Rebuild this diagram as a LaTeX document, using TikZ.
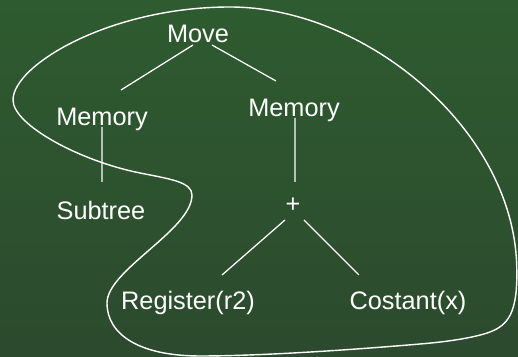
\documentclass[tikz,border=0pt]{standalone}
\usepackage{fontspec}
\setmainfont{Liberation Sans}
\usepackage{tikz}
\usetikzlibrary{calc}
\usepackage{xcolor}
\definecolor{BoardTop}{HTML}{2E5B2F}
\definecolor{BoardBottom}{HTML}{2C4A2E}
\definecolor{ChalkColor}{HTML}{FFFFFF}

\begin{document}
\begin{tikzpicture}[every node/.style={font=\fontsize{18}{21}\selectfont, text=ChalkColor,
                    inner sep=0pt, anchor=base},
                    edge/.style={draw=ChalkColor, line width=0.9pt}]
        % board
        \shade[top color=BoardTop, bottom color=BoardBottom] (0,0) rectangle (12.95,8.925);
        \useasboundingbox (0,0) rectangle (12.95,8.925);

        % tree
        \node (move)    at (4.95,7.85)   {Move};
        \node (meml)    at (2.55,5.775)  {Memory};
        \node (memr)    at (7.35,6.0)    {Memory};
        \node (subtree) at (2.525,3.425) {Subtree};
        \node (plus)    at (7.325,3.6)   {+};
        \node (reg)     at (4.7,1.175)   {Register(r2)};
        \node (const)   at (10.2,1.175)  {Costant(x)};

        \draw[edge] ([shift={(-0.125,-0.05)}]move.base) -- ([shift={(0.475,0.9)}]meml.base);
        \draw[edge] ([shift={(0.35,-0.05)}]move.base)   -- ([shift={(-0.45,0.9)}]memr.base);
        \draw[edge] ([shift={(0,-0.025)}]meml.base)     -- ([shift={(0.025,0.95)}]subtree.base);
        \draw[edge] ([shift={(0.025,-0.025)}]memr.base) -- ([shift={(0.05,0.775)}]plus.base);
        \draw[edge] ([shift={(-0.2,-0.175)}]plus.base)  -- ([shift={(0.85,0.875)}]reg.base);
        \draw[edge] ([shift={(0.275,-0.175)}]plus.base) -- ([shift={(-1.225,0.875)}]const.base);

        % tile outline
        \draw[ChalkColor, line width=1pt]
          (0.325,6.425) .. controls (0.325,7.3) and (2.75,8.75) .. (5.75,8.75)
          .. controls (9.125,8.75) and (12.9,5.675) .. (12.92,2.175)
          .. controls (12.94,1.1) and (12.7,0.8) .. (12.25,0.625)
          .. controls (11.85,0.475) and (11.125,0.375) .. (10.5,0.325)
          .. controls (8.75,0.175) and (6.5,0.025) .. (5.0,0.025)
          .. controls (3.5,0.025) and (2.675,0.55) .. (2.675,1.35)
          .. controls (2.675,2.175) and (4.8,3.175) .. (4.8,4.05)
          .. controls (4.8,4.375) and (4.25,4.45) .. (3.5,4.6)
          .. controls (2.0,4.9) and (0.325,5.8) .. cycle;
      \end{tikzpicture}
\end{document}
